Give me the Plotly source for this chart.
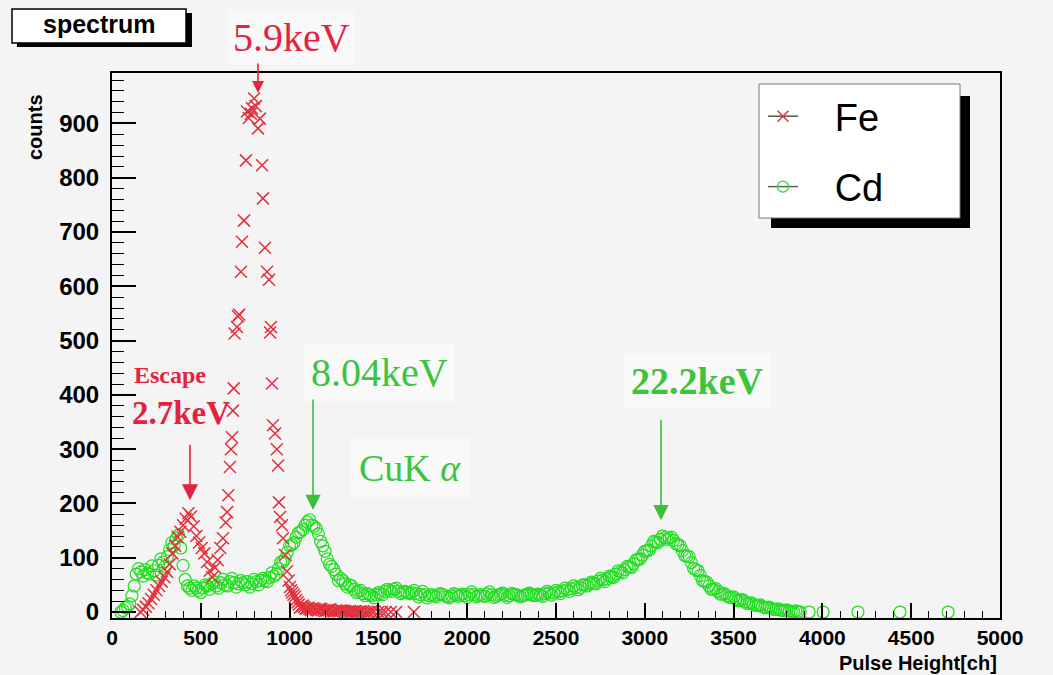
import plotly.graph_objects as go

# ---------------- data ----------------
fe_x = [160, 175, 190, 205, 220, 235, 250, 265, 280, 295, 310, 325, 340, 355, 370, 385, 400, 415, 430, 445,
        460, 475, 490, 505, 520, 535, 550, 565, 580, 595, 610, 625, 640, 648, 655, 664, 670, 676, 681, 685,
        690, 704, 709, 716, 726, 732, 743, 754, 760, 770, 782, 788, 800, 810, 822, 833, 845, 850, 861, 873,
        884, 890, 895, 901, 906, 918, 928, 935, 940, 946, 957, 963, 975, 985, 995, 1002, 1015, 1030, 1045, 1058,
        1075, 1090, 1105, 1120, 1140, 1160, 1180, 1200, 1220, 1240, 1260, 1280, 1300, 1320, 1340, 1360, 1380, 1400, 1430, 1460,
        1500, 1540, 1600, 1700]
fe_y = [0, 4, 10, 16, 24, 32, 40, 48, 56, 64, 74, 88, 108, 122, 138, 148, 160, 172, 182, 176,
        158, 140, 128, 118, 108, 92, 76, 64, 82, 96, 118, 136, 165, 184, 215, 267, 300, 322, 371, 412,
        513, 525, 545, 548, 627, 682, 721, 832, 922, 910, 918, 928, 946, 932, 891, 909, 823, 762, 671, 627,
        612, 515, 525, 421, 344, 329, 300, 270, 202, 175, 160, 136, 105, 75, 58, 46, 36, 28, 18, 8,
        12, 6, 8, 4, 6, 3, 5, 2, 4, 2, 3, 1, 2, 0, 2, 1, 0, 1, 0, 1,
        0, 0, 0, 0]
# additional Fe bins in the low tail
fe_x_tail = [1008, 1022, 1037, 1052, 1066, 1082, 1097, 1112, 1130, 1150, 1170, 1190, 1210, 1230, 1250, 1270,
             1290, 1310, 1330, 1350, 1370, 1390, 1415, 1445, 1475, 1520, 1570]
fe_y_tail = [40, 32, 22, 14, 10, 9, 7, 5, 7, 4, 6, 3, 3, 5, 1, 2,
             3, 1, 1, 0, 2, 0, 1, 0, 1, 0, 0]

cd_x = [50, 75, 100, 125, 150, 175, 200, 225, 250, 275, 300, 325, 350, 375, 400, 425, 450, 475, 500, 525,
        550, 575, 600, 625, 650, 675, 700, 725, 750, 775, 800, 825, 850, 875, 900, 925, 950, 975, 1000, 1025,
        1050, 1075, 1100, 1125, 1150, 1175, 1200, 1225, 1250, 1275, 1300, 1325, 1350, 1375, 1400, 1425, 1450, 1475, 1500, 1525,
        1550, 1575, 1600, 1625, 1650, 1675, 1700, 1725, 1750, 1775, 1800, 1825, 1850, 1875, 1900, 1925, 1950, 1975, 2000, 2025,
        2050, 2075, 2100, 2125, 2150, 2175, 2200, 2225, 2250, 2275, 2300, 2325, 2350, 2375, 2400, 2425, 2450, 2475, 2500, 2525,
        2550, 2575, 2600, 2625, 2650, 2675, 2700, 2725, 2750, 2775, 2800, 2825, 2850, 2875, 2900, 2925, 2950, 2975, 3000, 3025,
        3050, 3075, 3100, 3125, 3150, 3175, 3200, 3225, 3250, 3275, 3300, 3325, 3350, 3375, 3400, 3425, 3450, 3475, 3500, 3525,
        3550, 3575, 3600, 3625, 3650, 3675, 3700, 3725, 3750, 3775, 3800, 3825, 3850, 3875, 3925, 4004, 4200, 4437, 4708]
cd_y = [0, 8, 15, 48, 80, 66, 72, 85, 68, 98, 84, 115, 122, 142, 86, 48, 40, 44, 36, 50,
        42, 56, 44, 60, 48, 62, 46, 58, 50, 46, 60, 50, 62, 56, 72, 70, 92, 98, 122, 128,
        146, 152, 166, 160, 154, 130, 112, 88, 78, 58, 58, 46, 48, 36, 40, 30, 32, 26, 36, 32,
        42, 38, 44, 34, 38, 34, 40, 28, 38, 26, 32, 28, 34, 30, 26, 34, 29, 33, 27, 37,
        28, 32, 29, 37, 27, 31, 35, 27, 34, 32, 28, 31, 35, 30, 33, 29, 38, 31, 40, 34,
        44, 38, 48, 41, 50, 48, 55, 52, 62, 56, 66, 64, 76, 72, 84, 82, 96, 98, 112, 114,
        130, 128, 140, 134, 138, 126, 122, 104, 102, 80, 76, 58, 55, 42, 43, 33, 34, 27, 28, 21,
        23, 16, 17, 12, 13, 8, 9, 5, 6, 3, 4, 1, 2, 0, 0, 0, 0, 0, 0]
# interleaved Cd bins
cd_x_mid = [62, 87, 112, 137, 162, 187, 212, 237, 262, 287, 312, 337, 362, 387, 412, 437, 462, 487, 512, 537,
            562, 587, 612, 637, 662, 687, 712, 737, 762, 787, 812, 837, 862, 887, 912, 937, 962, 987, 1012, 1037,
            1062, 1087, 1112, 1137, 1162, 1187, 1212, 1237, 1262, 1287, 1312, 1337, 1362, 1387, 1412, 1437, 1462, 1487, 1512, 1537,
            1562, 1587, 1612, 1637, 1662, 1687, 1712, 1737, 1762, 1787, 1812, 1837, 1862, 1887, 1912, 1937, 1962, 1987, 2012, 2037,
            2062, 2087, 2112, 2137, 2162, 2187, 2212, 2237, 2262, 2287, 2312, 2337, 2362, 2387, 2412, 2437, 2462, 2487, 2512, 2537,
            2562, 2587, 2612, 2637, 2662, 2687, 2712, 2737, 2762, 2787, 2812, 2837, 2862, 2887, 2912, 2937, 2962, 2987, 3012, 3037,
            3062, 3087, 3112, 3137, 3162, 3187, 3212, 3237, 3262, 3287, 3312, 3337, 3362, 3387, 3412, 3437, 3462, 3487, 3512, 3537,
            3562, 3587, 3612, 3637, 3662, 3687, 3712, 3737, 3762, 3787, 3812, 3837, 3862]
cd_y_mid = [3, 10, 30, 70, 74, 78, 70, 76, 86, 92, 102, 128, 136, 118, 60, 44, 48, 40, 44, 48,
            52, 48, 54, 50, 56, 54, 52, 54, 56, 52, 56, 58, 58, 64, 66, 80, 92, 110, 124, 138,
            148, 160, 170, 158, 144, 122, 98, 84, 70, 62, 52, 50, 42, 38, 34, 34, 30, 32, 34, 38,
            40, 42, 38, 36, 36, 36, 34, 32, 32, 30, 30, 32, 32, 28, 30, 32, 31, 30, 32, 32,
            30, 30, 33, 32, 29, 33, 31, 30, 33, 30, 30, 33, 32, 31, 31, 34, 35, 35, 37, 39,
            41, 43, 45, 45, 50, 52, 53, 57, 59, 61, 65, 70, 74, 78, 83, 89, 97, 105, 113, 122,
            129, 134, 137, 136, 132, 124, 113, 103, 91, 78, 67, 56, 48, 42, 38, 33, 30, 27, 24, 22,
            19, 16, 14, 12, 10, 8, 7, 5, 4, 3, 2, 1, 1]

x_ticks = [0, 500, 1000, 1500, 2000, 2500, 3000, 3500, 4000, 4500, 5000]
y_ticks = [0, 100, 200, 300, 400, 500, 600, 700, 800, 900]

RED = "#e2303c"
GREEN = "#22dd22"
RED_TXT = "#e3233f"
GREEN_TXT = "#3cc43c"
SANS = "Liberation Sans"
SERIF = "Liberation Serif"

W, H = 1053, 675
L, R, T, B = 112, 53, 73, 57
PW, PH = W - L - R, H - T - B


def px(xp):
    return (xp - L) / PW


def py(yp):
    return (H - B - yp) / PH


fig = go.Figure()

fig.add_trace(go.Scatter(x=cd_x + cd_x_mid, y=cd_y + cd_y_mid, mode="markers", showlegend=False,
                         marker=dict(symbol="circle-open", size=12, color=GREEN, line=dict(width=1.2, color=GREEN))))
fig.add_trace(go.Scatter(x=fe_x + fe_x_tail, y=fe_y + fe_y_tail, mode="markers", showlegend=False,
                         marker=dict(symbol="x-thin-open", size=12, color=RED, line=dict(width=1.5, color=RED))))

# legend entries
fig.add_trace(go.Scatter(x=[None], y=[None], mode="lines+markers", name="\u00a0\u00a0\u00a0Fe", legendgroup="fe",
                         line=dict(color="#555555", width=1.5),
                         marker=dict(symbol="x-thin-open", size=11, color=RED, line=dict(width=1.5, color=RED))))
fig.add_trace(go.Scatter(x=[None], y=[None], mode="lines+markers", name="\u00a0\u00a0\u00a0Cd", legendgroup="cd",
                         line=dict(color="#556655", width=1.5),
                         marker=dict(symbol="circle-open", size=11, color=GREEN, line=dict(width=1.2, color=GREEN))))

shapes = [
    # spectrum box shadow + box
    dict(type="rect", xref="paper", yref="paper", x0=px(17), x1=px(192), y0=py(47), y1=py(13),
         fillcolor="black", line=dict(width=0), layer="above"),
    dict(type="rect", xref="paper", yref="paper", x0=px(12), x1=px(186), y0=py(43), y1=py(9),
         fillcolor="white", line=dict(color="black", width=1.5), layer="above"),
    # legend shadow + box
    dict(type="rect", xref="paper", yref="paper", x0=px(771), x1=px(970), y0=py(228), y1=py(96),
         fillcolor="black", line=dict(width=0), layer="above"),
    dict(type="rect", xref="paper", yref="paper", x0=px(759), x1=px(960), y0=py(218), y1=py(84),
         fillcolor="white", line=dict(color="#777777", width=1), layer="above"),
]

ann = []


def label(text, xp, yp, size, color, family, xanchor="center", **kw):
    return dict(text=text, xref="paper", yref="paper", x=px(xp), y=py(yp), xanchor=xanchor, yanchor="middle",
                showarrow=False, font=dict(family=family, size=size, color=color), **kw)


BOX = "#f9f9f9"
# titles
ann.append(label("<b>spectrum</b>", 99, 24, 25, "black", SANS))
ann.append(label("<b>counts</b>", 35, 127, 20, "black", SANS, textangle=-90))
ann.append(label("<b>Pulse Height[ch]</b>", 998, 663, 20, "black", SANS, xanchor="right", borderpad=0))
# peak labels
ann.append(label("5.9keV", 291, 37, 40, RED_TXT, SERIF, bgcolor=BOX, borderpad=4))
ann.append(label("<b>Escape</b>", 170, 375, 24, RED_TXT, SERIF))
ann.append(label("<b>2.7keV</b>", 181, 413, 33, RED_TXT, SERIF))
ann.append(label("8.04keV", 379, 372, 40, GREEN_TXT, SERIF, bgcolor=BOX, borderpad=6))
ann.append(label("CuK <i>α</i>", 410, 468, 38, GREEN_TXT, SERIF, bgcolor=BOX, borderpad=8))
ann.append(label("<b>22.2keV</b>", 697, 381, 38, GREEN_TXT, SERIF, bgcolor=BOX, borderpad=6))


# arrows (tip in data coords)
def arrow(xt, yt, length, color, size):
    return dict(text="", x=xt, y=yt, xref="x", yref="y", ax=0, ay=-length, axref="pixel", ayref="pixel",
                showarrow=True, arrowhead=2, arrowsize=size, arrowwidth=1.6, arrowcolor=color, standoff=0,
                startstandoff=0)


ann.append(arrow(822, 956, 31, RED_TXT, 1.5))
ann.append(arrow(439, 206, 57, RED_TXT, 2.0))
ann.append(arrow(1132, 188, 112, "#3cbf3c", 1.9))
ann.append(arrow(3091, 169, 102, "#3cbf3c", 1.9))

fig.update_layout(
    width=W, height=H,
    margin=dict(l=L, r=R, t=T, b=B, pad=0),
    paper_bgcolor="#f4f4f4",
    plot_bgcolor="#f4f4f4",
    shapes=shapes,
    annotations=ann,
    showlegend=True,
    legend=dict(x=px(763), y=py(85), xanchor="left", yanchor="top", bgcolor="rgba(0,0,0,0)",
                borderwidth=0, font=dict(family=SANS, size=38, color="black"), tracegroupgap=18,
                itemwidth=30),
    xaxis=dict(range=[0, 5000], tickvals=x_ticks, ticktext=[str(v) for v in x_ticks],
               showgrid=False, zeroline=False, showline=True, linecolor="black", linewidth=2, mirror=True,
               ticks="inside", ticklen=15, tickwidth=1.5, tickcolor="black",
               minor=dict(ticks="inside", dtick=100, ticklen=7, tickwidth=1.2, tickcolor="black", showgrid=False),
               tickfont=dict(family=SANS, size=21, color="black", weight="bold")),
    yaxis=dict(range=[-11, 993], tickvals=y_ticks, ticktext=[str(v) for v in y_ticks],
               showgrid=False, zeroline=False, showline=True, linecolor="black", linewidth=2, mirror=True,
               ticks="inside", ticklen=24, tickwidth=1.5, tickcolor="black", ticklabelstandoff=6,
               minor=dict(ticks="inside", dtick=20, ticklen=12, tickwidth=1.2, tickcolor="black", showgrid=False),
               tickfont=dict(family=SANS, size=24, color="black", weight="bold")),
)

fig.write_html("out.html")
